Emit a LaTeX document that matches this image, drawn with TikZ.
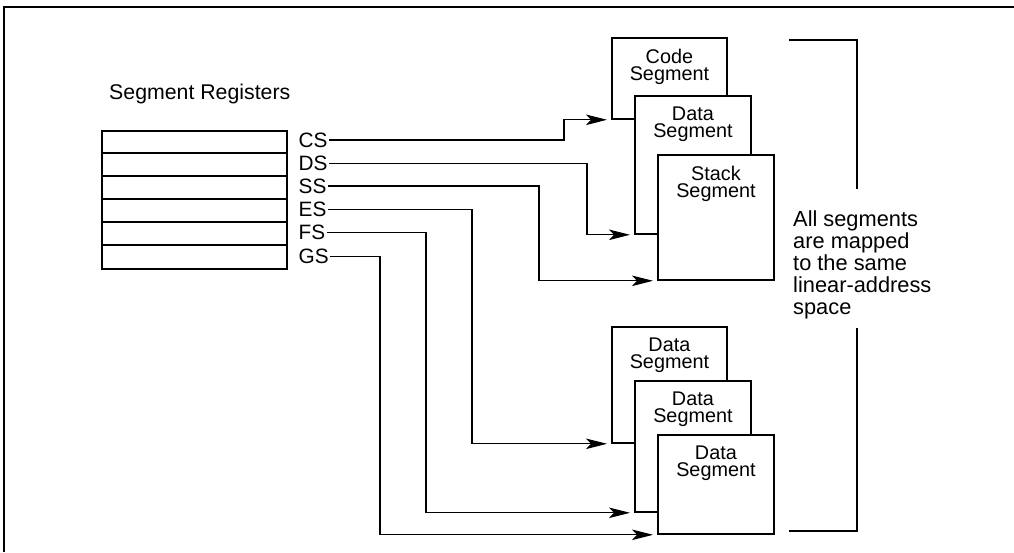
\documentclass[tikz,border=0pt]{standalone}
\usepackage{fontspec}
\setmainfont{Liberation Sans}
\usetikzlibrary{arrows.meta,calc}
\begin{document}
\begin{tikzpicture}[x=1pt,y=-1pt,
  segbox/.style={draw, line width=1.8pt, fill=white, rectangle, inner sep=0pt, anchor=north west},
  segtext/.style={font=\fontsize{19.8}{17.6}\selectfont, align=center, anchor=north, inner sep=0pt},
  reglabel/.style={font=\fontsize{20.8}{22}\selectfont, anchor=west, inner sep=1.5pt},
  conn/.style={line width=1.1pt, -{Stealth[length=21pt,width=10.5pt,inset=5pt]}, shorten >=4pt},
  frameline/.style={line width=2pt},
]
\useasboundingbox (0,0) rectangle (1014,552);
% frame (top and left)
\draw[frameline] (4,552) -- (4,6.5) -- (1014,6.5);

% title
\node[font=\fontsize{21.3}{24}\selectfont, anchor=base west, inner sep=0pt] (title) at (109,99.3) {Segment Registers};

% register block
\node[draw, line width=2pt, rectangle, minimum width=185pt, minimum height=138pt, inner sep=0pt, anchor=north west] (reg) at (101,130) {};
\foreach \i in {1,...,5} {
  \draw[line width=1.3pt] ($(reg.north west)+(0,23*\i)$) -- ($(reg.north east)+(0,23*\i)$);
}

% register labels
\node[reglabel] (CS) at (297,140) {CS};
\node[reglabel] (DS) at (297,163.3) {DS};
\node[reglabel] (SS) at (297,186) {SS};
\node[reglabel] (ES) at (297,209.3) {ES};
\node[reglabel] (FS) at (297,232.7) {FS};
\node[reglabel] (GS) at (297,256.7) {GS};

% upper segments
\node[segbox, minimum width=115pt, minimum height=81pt] (code) at (611,37) {};
\node[segtext] (codet) at ($(code.north)+(0,11.5)$) {Code\\Segment};
\node[segbox, minimum width=116pt, minimum height=138pt] (data1) at (634,95) {};
\node[segtext] (data1t) at ($(data1.north)+(0,11.5)$) {Data\\Segment};
\node[segbox, minimum width=116pt, minimum height=125pt] (stack) at (657,154) {};
\node[segtext] (stackt) at ($(stack.north)+(0,11.5)$) {Stack\\Segment};

% lower segments
\node[segbox, minimum width=115pt, minimum height=116pt] (ld1) at (611,326) {};
\node[segtext] (ld1t) at ($(ld1.north)+(0,11.5)$) {Data\\Segment};
\node[segbox, minimum width=116pt, minimum height=131pt] (ld2) at (634,380) {};
\node[segtext] (ld2t) at ($(ld2.north)+(0,11.5)$) {Data\\Segment};
\node[segbox, minimum width=116pt, minimum height=99pt] (ld3) at (657,434) {};
\node[segtext] (ld3t) at ($(ld3.north)+(0,11.5)$) {Data\\Segment};

% bend x positions
\coordinate (kCS) at (564,0);
\coordinate (kDS) at (587,0);
\coordinate (kSS) at (539,0);
\coordinate (kES) at (472,0);
\coordinate (kFS) at (426,0);
\coordinate (kGS) at (380,0);

% connectors
\draw[conn] (CS.east) -| (kCS |- code.south west) -- (code.south west);
\draw[conn] (DS.east) -| (kDS |- data1.south west) -- (data1.south west);
\draw[conn] (SS.east) -| (kSS |- stack.south west) -- (stack.south west);
\draw[conn] (ES.east) -| (kES |- ld1.south west) -- (ld1.south west);
\draw[conn] (FS.east) -| (kFS |- ld2.south west) -- (ld2.south west);
\draw[conn] (GS.east) -| (kGS |- ld3.south west) -- (ld3.south west);

% bracket and note
\draw[frameline] (789,40) -- (857,40) -- (857,189);
\draw[frameline] (857,328) -- (857,531) -- (789,531);
\node[font=\fontsize{21.8}{22}\selectfont, align=left, anchor=north west, inner sep=0pt] (note) at (793,210) {All segments\\are mapped\\to the same\\linear-address\\space};
\end{tikzpicture}
\end{document}
